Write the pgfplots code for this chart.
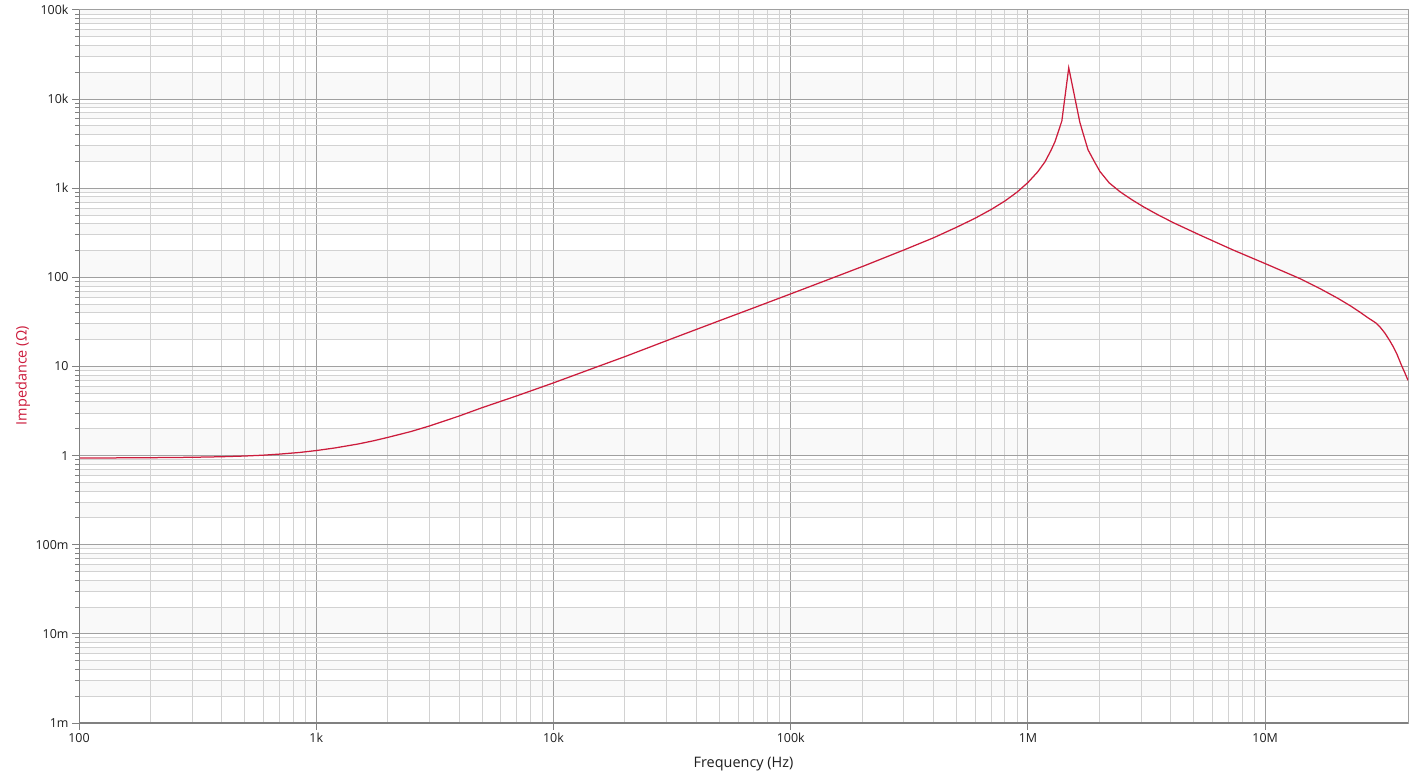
\documentclass[border=0pt]{standalone}
\usepackage{fontspec}
\setmainfont{Open Sans}
\usepackage{pgfplots}
\pgfplotsset{compat=1.18}

\definecolor{zline}{RGB}{204,28,60}
\definecolor{majgrid}{RGB}{160,160,160}
\definecolor{mingrid}{RGB}{210,210,210}
\definecolor{band}{RGB}{249,249,249}
\definecolor{frame}{RGB}{128,128,128}
\definecolor{ticktext}{RGB}{30,30,30}

\pgfplotsset{
  tick label style={font=\fontsize{12.5}{15}\selectfont, color=ticktext},
}

\begin{document}
\begin{tikzpicture}
\path (-79bp,-55bp) rectangle (1336bp,723bp);

% background: alternating light bands between horizontal grid lines
\begin{axis}[
  hide axis,
  xmode=log, ymode=log,
  scale only axis, width=1329bp, height=713bp,
  xmin=100, xmax=4e7, ymin=1e-3, ymax=1e5,
]
\pgfplotsinvokeforeach{-3,-1,1,3}{
  \fill[band] (axis cs:100,2e#1) rectangle (axis cs:4e7,3e#1)
              (axis cs:100,4e#1) rectangle (axis cs:4e7,5e#1)
              (axis cs:100,6e#1) rectangle (axis cs:4e7,7e#1)
              (axis cs:100,8e#1) rectangle (axis cs:4e7,9e#1);
}
\pgfplotsinvokeforeach{-2,0,2,4}{
  \fill[band] (axis cs:100,1e#1) rectangle (axis cs:4e7,2e#1)
              (axis cs:100,3e#1) rectangle (axis cs:4e7,4e#1)
              (axis cs:100,5e#1) rectangle (axis cs:4e7,6e#1)
              (axis cs:100,7e#1) rectangle (axis cs:4e7,8e#1)
              (axis cs:100,9e#1) rectangle (axis cs:4e7,10e#1);
}
\end{axis}

\begin{axis}[
  xmode=log, ymode=log,
  scale only axis, width=1329bp, height=713bp,
  xmin=100, xmax=4e7, ymin=1e-3, ymax=1e5,
  xtick={1e2,1e3,1e4,1e5,1e6,1e7},
  xticklabels={100,1k,10k,100k,1M,10M},
  ytick={1e-3,1e-2,1e-1,1,10,100,1e3,1e4,1e5},
  yticklabels={1m,10m,100m,1,10,100,1k,10k,100k},
  grid=both,
  major grid style={majgrid, line width=1bp},
  minor grid style={mingrid, line width=1bp},
  axis line style={majgrid, line width=1bp},
  tick align=outside,
  xtick pos=bottom, ytick pos=left,
  major tick length=7bp, minor tick length=4bp,
  tick style={frame, line width=1bp},
  minor x tick style={draw=none},
  xlabel={Frequency (Hz)},
  ylabel={Impedance (Ω)},
  every axis x label/.style={at={(rel axis cs:0.5,0)}, yshift=-44bp, anchor=base,
    color=ticktext, font=\fontsize{14.5}{17}\selectfont},
  every axis y label/.style={at={(rel axis cs:0,0.487)}, xshift=-52.3bp, anchor=base,
    rotate=90, color=zline, font=\fontsize{14.5}{17}\selectfont},
]
\addplot[zline, line width=1.25bp, no markers] table {
f Z
100 0.94
150 0.944
200 0.948
300 0.958
400 0.972
500 0.99
600 1.012
700 1.04
850 1.085
1000 1.14
1200 1.22
1500 1.35
1750 1.47
2000 1.60
2500 1.86
3000 2.15
4000 2.78
5000 3.45
6000 4.07
7000 4.68
8500 5.62
10000 6.55
15000 9.75
20000 12.9
30000 19.5
50000 32.6
70000 45.6
100000 65.3
150000 98.5
200000 132
300000 203
400000 278
500000 365
600000 462
700000 578
800000 720
900000 905
1000000 1160
1100000 1530
1180000 1980
1250000 2650
1300000 3330
1390000 5700
1486000 22500
1655000 5500
1707000 4150
1792000 2700
1900000 2020
2012000 1540
2200000 1150
2442000 915
2750000 740
3063000 621
3500000 510
4100000 411
5300000 299
7320000 203
10050000 142
14000000 97
17000000 75
20300000 58
23000000 47.5
25000000 41
27000000 35.5
29400000 30.6
30400000 28
32000000 23.6
33500000 19.5
34600000 16.8
36000000 13.6
37500000 10.4
38800000 8.5
40000000 7.0
};

\draw[frame, line width=1.5bp] (rel axis cs:0,0) -- (rel axis cs:0,1);
\draw[frame, line width=2bp] (rel axis cs:0,0) -- (rel axis cs:1,0);
\end{axis}
\end{tikzpicture}
\end{document}
